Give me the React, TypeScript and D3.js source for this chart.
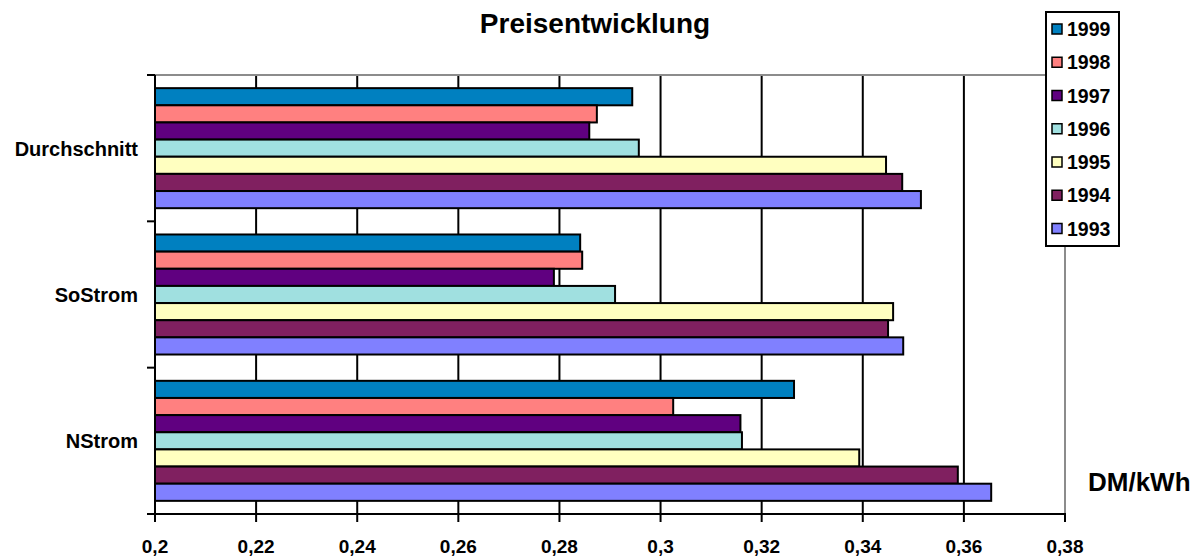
import React from "react";
import * as d3 from "d3";

const categories = ["Durchschnitt", "SoStrom", "NStrom"];
const years = ["1999", "1998", "1997", "1996", "1995", "1994", "1993"];
const colors = ["#0080C0", "#FF8080", "#600080", "#A0E0E0", "#FFFFC0", "#802060", "#8080FF"];
const v1999 = [0.2944, 0.2841, 0.3264];
const v1998 = [0.2874, 0.2845, 0.3025];
const v1997 = [0.2859, 0.2789, 0.3158];
const v1996 = [0.2957, 0.291, 0.3161];
const v1995 = [0.3446, 0.346, 0.3393];
const v1994 = [0.3478, 0.345, 0.3588];
const v1993 = [0.3515, 0.348, 0.3654];
const seriesValues = [v1999, v1998, v1997, v1996, v1995, v1994, v1993];
const xTicks = [0.2, 0.22, 0.24, 0.26, 0.28, 0.3, 0.32, 0.34, 0.36, 0.38];
const tickLabels = ["0,2", "0,22", "0,24", "0,26", "0,28", "0,3", "0,32", "0,34", "0,36", "0,38"];

export default function App() {
  const W = 1200, H = 557;
  const left = 155, right = 1065, top = 75, bottom = 514;
  const x = d3.scaleLinear().domain([0.2, 0.38]).range([left, right]);
  const y = d3.scaleBand().domain(categories).range([top, bottom]).padding(0);
  const inner = d3.scaleBand().domain(years).range([0, y.bandwidth()]).paddingInner(0).paddingOuter(0.767);
  const font = "Arial, 'Liberation Sans', sans-serif";
  const bounds = [top, ...categories.map((c) => (y(c) as number) + y.bandwidth())];

  return (
    <svg width={W} height={H} style={{ position: "absolute", left: 0, top: 0, background: "#fff" }}>
      <rect x={0} y={0} width={W} height={H} fill="#fff" />
      <text x={595} y={33} textAnchor="middle" fontFamily={font} fontWeight="bold" fontSize={28}>
        Preisentwicklung
      </text>
      {/* gridlines */}
      {xTicks.slice(1, -1).map((t) => (
        <line key={t} x1={x(t)} x2={x(t)} y1={top} y2={bottom} stroke="#000" strokeWidth={2} />
      ))}
      {/* frame top/right */}
      <line x1={left} x2={right} y1={top} y2={top} stroke="#8c8c8c" strokeWidth={2} />
      <line x1={right} x2={right} y1={top} y2={bottom} stroke="#8c8c8c" strokeWidth={2} />
      {/* bars */}
      {categories.map((c, ci) => (
        <g key={c}>
          {years.map((yr, si) => {
            const v = seriesValues[si][ci];
            const y0 = (y(c) as number) + (inner(yr) as number);
            return (
              <rect key={yr} x={x(0.2)} y={y0} width={x(v) - x(0.2)} height={inner.bandwidth()}
                fill={colors[si]} stroke="#000" strokeWidth={2} />
            );
          })}
        </g>
      ))}
      {/* axes */}
      <line x1={left} x2={left} y1={top} y2={bottom} stroke="#000" strokeWidth={2} />
      {bounds.map((b, i) => (
        <line key={i} x1={left - 8} x2={left} y1={b} y2={b} stroke="#000" strokeWidth={2} />
      ))}
      <line x1={left} x2={right + 1} y1={bottom} y2={bottom} stroke="#000" strokeWidth={2} />
      {xTicks.map((t) => (
        <line key={t} x1={x(t)} x2={x(t)} y1={bottom} y2={bottom + 8} stroke="#000" strokeWidth={2} />
      ))}
      {xTicks.map((t, i) => (
        <text key={t} x={x(t)} y={553} textAnchor="middle" fontFamily={font} fontWeight="bold" fontSize={19}>
          {tickLabels[i]}
        </text>
      ))}
      {categories.map((c) => (
        <text key={c} x={138} y={(y(c) as number) + y.bandwidth() / 2 + 7.5} textAnchor="end"
          fontFamily={font} fontWeight="bold" fontSize={20}>
          {c}
        </text>
      ))}
      <text x={1088} y={491} fontFamily={font} fontWeight="bold" fontSize={26}>DM/kWh</text>
      {/* legend */}
      <rect x={1046} y={12} width={73} height={234} fill="#fff" stroke="#000" strokeWidth={2} />
      {years.map((yr, i) => {
        const cy = 29 + i * 33.25;
        return (
          <g key={yr}>
            <rect x={1052} y={cy - 5} width={10} height={10} fill={colors[i]} stroke="#000" strokeWidth={1.5} />
            <text x={1067} y={cy + 7} fontFamily={font} fontWeight="bold" fontSize={19.5}>{yr}</text>
          </g>
        );
      })}
    </svg>
  );
}
